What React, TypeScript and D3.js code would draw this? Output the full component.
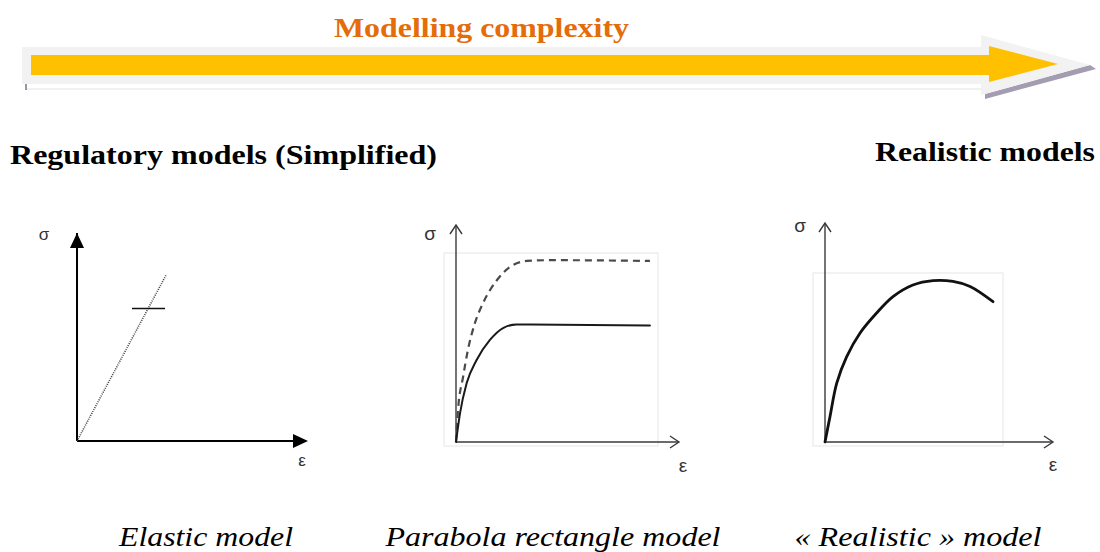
import { useEffect, useRef } from "react";
import * as d3 from "d3";

// ---------------------------------------------------------------------------
// Curves, in normalised units (strain 0..1, stress 0..1)
// ---------------------------------------------------------------------------

const ELASTIC_STRAIN = [0, 0.405];
const ELASTIC_STRESS = [0, 0.847];
const ELASTIC_LIMIT = { stress: 0.676, from: 0.25, to: 0.4 };

const PARABOLA_STRAIN = [0, 0.02, 0.053, 0.102, 0.168, 0.233, 0.3, 0.366, 0.96];
const PARABOLA_STRESS = [0, 0.153, 0.312, 0.434, 0.54, 0.603, 0.622, 0.622, 0.616];

const MEAN_STRAIN = [0, 0.01, 0.035, 0.059, 0.094, 0.134, 0.203, 0.267, 0.351, 0.465, 0.96];
const MEAN_STRESS = [0, 0.169, 0.344, 0.487, 0.63, 0.735, 0.857, 0.926, 0.958, 0.962, 0.958];

const REAL_STRAIN = [0, 0.028, 0.066, 0.122, 0.197, 0.29, 0.382, 0.494, 0.607, 0.719, 0.815, 0.944];
const REAL_STRESS = [0, 0.15, 0.349, 0.505, 0.645, 0.763, 0.86, 0.929, 0.955, 0.95, 0.92, 0.83];

const TITLE = "Modelling complexity";
const LEFT_HEAD = "Regulatory models (Simplified)";
const RIGHT_HEAD = "Realistic models";
const CAPTIONS = ["Elastic model", "Parabola rectangle model", "\u00ab Realistic \u00bb model"];
const CAPTION_WIDTHS = [174, 335, 247];

const W = 1100;
const H = 552;
const SERIF = "'Liberation Serif', 'Times New Roman', serif";
const SANS = "'Liberation Sans', Arial, sans-serif";

type Panel = {
  ox: number; // origin
  oy: number;
  boxW: number; // width of unit domain
  boxH: number;
  xEnd: number; // x-axis tip
  yTop: number; // y-axis tip
  frame: boolean;
  filled: boolean;
  sigma: [number, number];
  eps: [number, number];
  caption: number;
};

const PANELS: Panel[] = [
  { ox: 77, oy: 441, boxW: 220, boxH: 196, xEnd: 304, yTop: 233, frame: false, filled: true, sigma: [44, 240], eps: [302, 466], caption: 206 },
  { ox: 456, oy: 442, boxW: 202, boxH: 189, xEnd: 679, yTop: 225, frame: true, filled: false, sigma: [430, 240], eps: [683, 472], caption: 553 },
  { ox: 825, oy: 442, boxW: 178, boxH: 169, xEnd: 1053, yTop: 223, frame: true, filled: false, sigma: [800, 232], eps: [1053, 471], caption: 918 },
];

function zip(xs: number[], ys: number[]): [number, number][] {
  return xs.map((x, i) => [x, ys[i]]);
}

export default function App() {
  const svgRef = useRef<SVGSVGElement>(null);

  useEffect(() => {
    const svg = d3.select(svgRef.current);
    svg.selectAll("*").remove();

    // ---- Complexity arrow ----
    const arrow = svg.append("g");
    arrow.append("path")
      .attr("d", "M985,94 L1090,65 L1096,69 L985,99 Z")
      .attr("fill", "#a49cb0");
    arrow.append("line")
      .attr("x1", 27).attr("x2", 985).attr("y1", 89).attr("y2", 89)
      .attr("stroke", "#ececf0").attr("stroke-width", 1.5);
    arrow.append("rect")
      .attr("x", 25).attr("y", 83).attr("width", 2).attr("height", 7)
      .attr("fill", "#9a96a8");
    arrow.append("path")
      .attr("d", "M22,47 L981,47 L981,35 L1090,65 L981,95 L981,84 L22,84 Z")
      .attr("fill", "#f2f2f2");
    arrow.append("path")
      .attr("d", "M31,55 L989,55 L989,46 L1058,64 L989,82 L989,75 L31,75 Z")
      .attr("fill", "#ffc000");
    arrow.append("text")
      .attr("x", 334).attr("y", 37)
      .attr("textLength", 295).attr("lengthAdjust", "spacingAndGlyphs")
      .attr("font-family", SERIF).attr("font-weight", "bold")
      .attr("font-size", 28).attr("fill", "#e46c0a")
      .text(TITLE);

    // ---- Headings ----
    svg.append("text")
      .attr("x", 10).attr("y", 164)
      .attr("textLength", 427).attr("lengthAdjust", "spacingAndGlyphs")
      .attr("font-family", SERIF).attr("font-weight", "bold")
      .attr("font-size", 27).attr("fill", "#000")
      .text(LEFT_HEAD);
    svg.append("text")
      .attr("x", 875).attr("y", 161)
      .attr("textLength", 220).attr("lengthAdjust", "spacingAndGlyphs")
      .attr("font-family", SERIF).attr("font-weight", "bold")
      .attr("font-size", 27).attr("fill", "#000")
      .text(RIGHT_HEAD);

    // ---- Panels ----
    const series = [
      [{ pts: zip(ELASTIC_STRAIN, ELASTIC_STRESS), dash: "1,1.2", w: 1.6, color: "#444" }],
      [
        { pts: zip(MEAN_STRAIN, MEAN_STRESS), dash: "7,5", w: 2.2, color: "#4a4a4a" },
        { pts: zip(PARABOLA_STRAIN, PARABOLA_STRESS), dash: null, w: 2, color: "#1a1a1a" },
      ],
      [{ pts: zip(REAL_STRAIN, REAL_STRESS), dash: null, w: 2.8, color: "#111" }],
    ];
    const curves = [d3.curveLinear, d3.curveMonotoneX, d3.curveCatmullRom.alpha(0.5)];

    PANELS.forEach((p, i) => {
      const g = svg.append("g");
      const x = d3.scaleLinear().domain([0, 1]).range([p.ox, p.ox + p.boxW]);
      const y = d3.scaleLinear().domain([0, 1]).range([p.oy, p.oy - p.boxH]);

      if (p.frame) {
        g.append("rect")
          .attr("x", x(0) - 12).attr("y", y(1))
          .attr("width", p.boxW + 12).attr("height", p.boxH + 4)
          .attr("fill", "none").attr("stroke", "#e6e6e6").attr("stroke-width", 1);
      }

      const axisColor = p.filled ? "#000" : "#3a3a3a";
      const aw = p.filled ? 2 : 1.4;
      g.append("line")
        .attr("x1", p.ox).attr("y1", p.oy).attr("x2", p.xEnd).attr("y2", p.oy)
        .attr("stroke", axisColor).attr("stroke-width", aw);
      g.append("line")
        .attr("x1", p.ox).attr("y1", p.oy).attr("x2", p.ox).attr("y2", p.yTop)
        .attr("stroke", axisColor).attr("stroke-width", aw);

      if (p.filled) {
        g.append("path")
          .attr("d", `M${p.xEnd + 4},${p.oy} L${p.xEnd - 11},${p.oy - 7} L${p.xEnd - 11},${p.oy + 7} Z`)
          .attr("fill", "#000");
        g.append("path")
          .attr("d", `M${p.ox},${p.yTop} L${p.ox - 7},${p.yTop + 15} L${p.ox + 7},${p.yTop + 15} Z`)
          .attr("fill", "#000");
      } else {
        g.append("path")
          .attr("d", `M${p.xEnd - 9},${p.oy - 6} L${p.xEnd},${p.oy} L${p.xEnd - 9},${p.oy + 6}`)
          .attr("fill", "none").attr("stroke", axisColor).attr("stroke-width", aw);
        g.append("path")
          .attr("d", `M${p.ox - 6},${p.yTop + 9} L${p.ox},${p.yTop} L${p.ox + 6},${p.yTop + 9}`)
          .attr("fill", "none").attr("stroke", axisColor).attr("stroke-width", aw);
      }

      const line = d3.line<[number, number]>()
        .x((d) => x(d[0]))
        .y((d) => y(d[1]))
        .curve(curves[i]);

      series[i].forEach((s) => {
        g.append("path")
          .attr("d", line(s.pts))
          .attr("fill", "none")
          .attr("stroke", s.color)
          .attr("stroke-width", s.w)
          .attr("stroke-dasharray", s.dash)
          .attr("stroke-linecap", s.dash ? "butt" : "round");
      });

      if (i === 0) {
        g.append("line")
          .attr("x1", x(ELASTIC_LIMIT.from)).attr("x2", x(ELASTIC_LIMIT.to))
          .attr("y1", y(ELASTIC_LIMIT.stress)).attr("y2", y(ELASTIC_LIMIT.stress))
          .attr("stroke", "#111").attr("stroke-width", 1.6);
      }

      g.append("text")
        .attr("x", p.sigma[0]).attr("y", p.sigma[1])
        .attr("text-anchor", "middle")
        .attr("font-family", SANS).attr("font-size", p.filled ? 17 : 19)
        .attr("fill", "#333")
        .text("\u03c3");
      g.append("text")
        .attr("x", p.eps[0]).attr("y", p.eps[1])
        .attr("text-anchor", "middle")
        .attr("font-family", SANS).attr("font-size", p.filled ? 17 : 19)
        .attr("fill", "#333")
        .text("\u03b5");

      svg.append("text")
        .attr("x", p.caption - CAPTION_WIDTHS[i] / 2).attr("y", 546)
        .attr("textLength", CAPTION_WIDTHS[i]).attr("lengthAdjust", "spacingAndGlyphs")
        .attr("font-family", SERIF).attr("font-style", "italic")
        .attr("font-size", 28).attr("fill", "#000")
        .text(CAPTIONS[i]);
    });
  }, []);

  return (
    <div style={{ position: "fixed", left: 0, top: 0, width: W, height: H, background: "#fff" }}>
      <svg ref={svgRef} width={W} height={H} style={{ display: "block" }} />
    </div>
  );
}
